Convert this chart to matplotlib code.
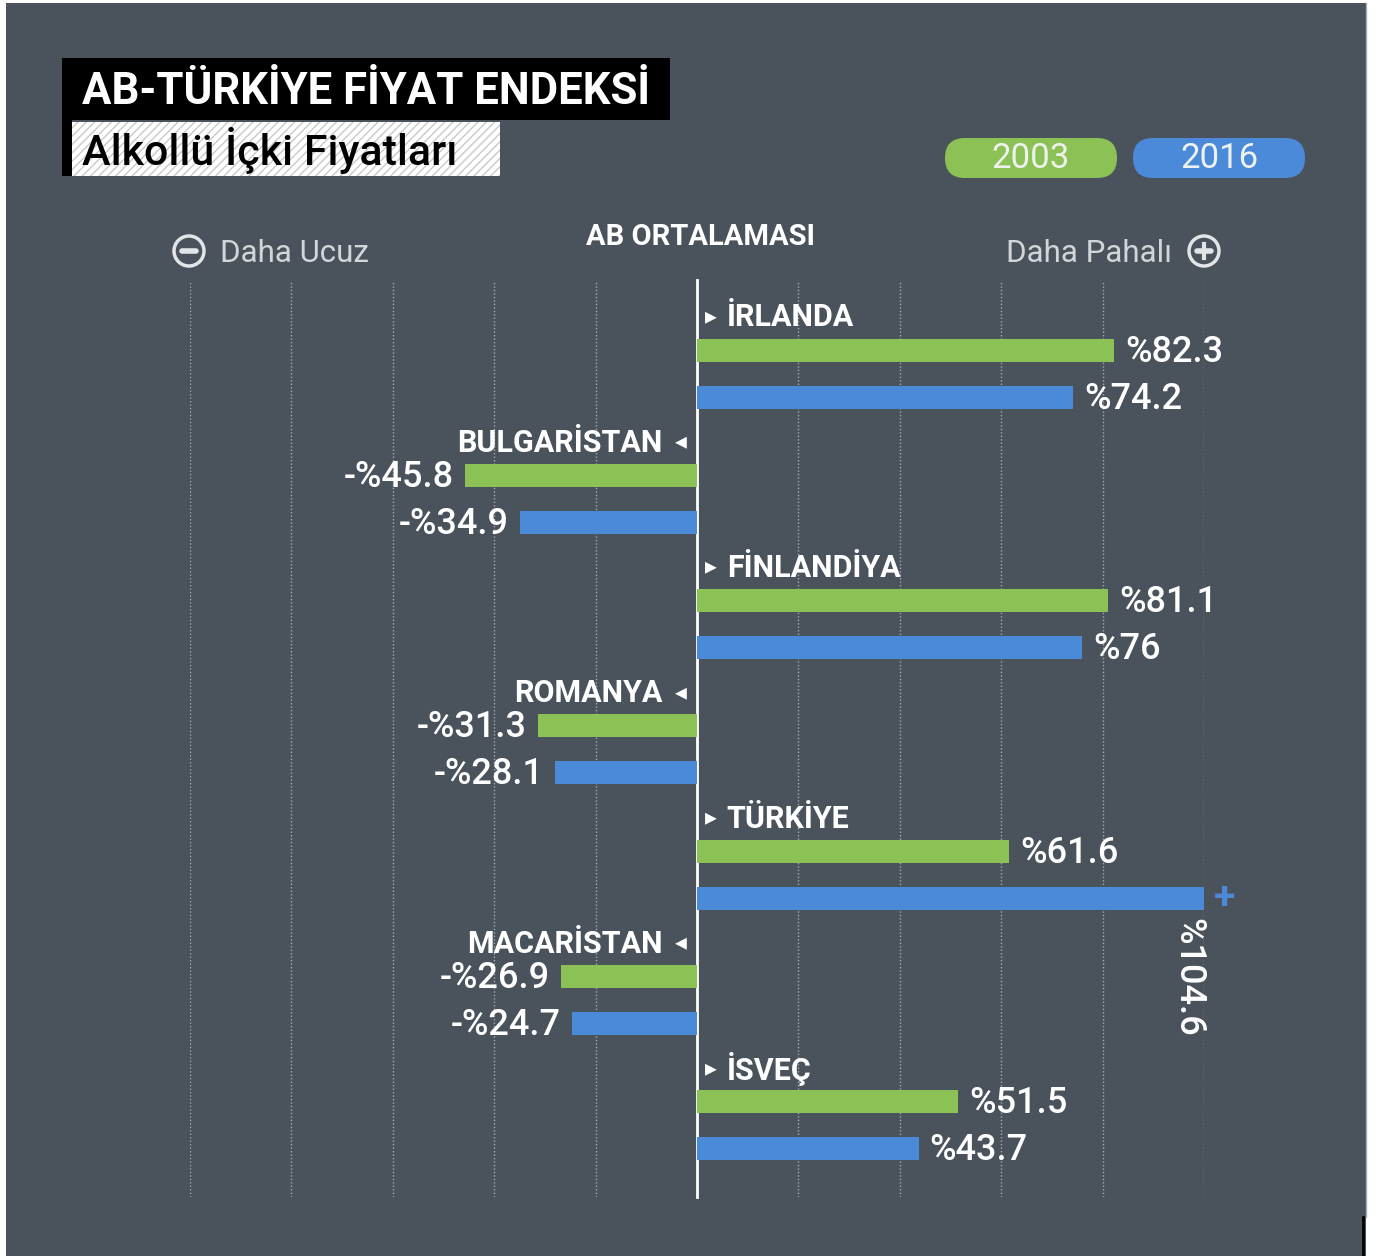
from matplotlib import pyplot as plt
from matplotlib.patches import Rectangle, FancyBboxPatch, Circle
import numpy as np

# veri
countries = ['İRLANDA', 'BULGARİSTAN', 'FİNLANDİYA', 'ROMANYA',
             'TÜRKİYE', 'MACARİSTAN', 'İSVEÇ']
v2003 = [82.3, -45.8, 81.1, -31.3, 61.6, -26.9, 51.5]
v2016 = [74.2, -34.9, 76.0, -28.1, 104.6, -24.7, 43.7]
years = ['2003', '2016']
grid_ticks = [-100, -80, -60, -40, -20, 20, 40, 60, 80, 100]

W, H = 1375, 1256
BG = '#4a535c'
GREEN = '#8bc155'
BLUE = '#4a8ad9'
FONT = 'Roboto'
XMAX = 100


def fy(y):
    # ust-kenar pikselini alt-kenar koordinatina cevir
    return H - y


def pct(v):
    s = '%' + ('%g' % abs(v))
    return '-' + s if v < 0 else s


fig = plt.figure(figsize=(W / 100, H / 100), dpi=100, facecolor='white')

# dekor katmani (piksel koordinatlari)
bg = fig.add_axes([0, 0, 1, 1], zorder=0)
bg.set_xlim(0, W)
bg.set_ylim(0, H)
bg.axis('off')
bg.add_patch(Rectangle((6, 0), 1360, fy(3), color=BG, lw=0))
bg.plot([1366, 1366], [fy(3), fy(1217)], color='#aab0b5', lw=1)
bg.plot([1363.5, 1363.5], [fy(1217), 0], color='black', lw=2)

# baslik kutulari
bg.add_patch(Rectangle((62, fy(176)), 10, 118, color='black', lw=0))
bg.add_patch(Rectangle((62, fy(120)), 608, 62, color='black', lw=0))
bg.add_patch(Rectangle((72, fy(176)), 428, 54, facecolor='white',
                       edgecolor='#c9c9c9', hatch='////', lw=0))
bg.text(82, fy(92), 'AB-TÜRKİYE FİYAT ENDEKSİ', color='white',
        fontsize=31.5, fontweight='bold', family=FONT, va='center', ha='left')
bg.text(82, fy(151), 'Alkollü İçki Fiyatları', color='black',
        fontsize=31, fontweight='medium', family=FONT, va='center', ha='left')

# lejant
for x0, lab, col in zip([945, 1133], years, [GREEN, BLUE]):
    bg.add_patch(FancyBboxPatch((x0, fy(178)), 172, 40,
                                boxstyle='round,pad=0,rounding_size=20',
                                facecolor=col, lw=0))
    bg.text(x0 + 86, fy(158), lab, color='#eef2ee', fontsize=25,
            family=FONT, ha='center', va='center')

# ust etiketler
bg.text(701, fy(237), 'AB ORTALAMASI', color='white', fontsize=21,
        fontweight='bold', family=FONT, ha='center', va='center')
bg.text(220, fy(253), 'Daha Ucuz', color='#d2d6d9', fontsize=22.5,
        family=FONT, ha='left', va='center')
bg.text(1172, fy(253), 'Daha Pahalı', color='#d2d6d9', fontsize=22.5,
        family=FONT, ha='right', va='center')
for cx, plus in [(189, False), (1204, True)]:
    cy = fy(251)
    bg.add_patch(Circle((cx, cy), 15, facecolor='none',
                        edgecolor='#e2e5e7', lw=2.5))
    bg.plot([cx - 7, cx + 7], [cy, cy], color='#e2e5e7', lw=4,
            solid_capstyle='round')
    if plus:
        bg.plot([cx, cx], [cy - 7, cy + 7], color='#e2e5e7', lw=3)

# ana grafik
ax = fig.add_axes([190 / W, 1 - 1197 / H, (1204 - 190) / W, (1197 - 282) / H],
                  zorder=1)
ax.set_facecolor('none')
STEP = 125.3
ax.set_xlim(-100, 100)
ax.set_ylim((1197 - 350) / STEP, (282 - 350) / STEP)
for s in ax.spines.values():
    s.set_visible(False)
ax.set_xticks(grid_ticks)
ax.set_yticks([])
ax.tick_params(length=0, labelbottom=False)
ax.grid(axis='x', color='#a3a9ae', ls=(0, (1, 1.5)), lw=1)
ax.axvline(0, color='white', lw=2, ymax=1.002, clip_on=False)

y = np.arange(len(countries))
bar_h = 23 / STEP
off2 = 47 / STEP
d03 = np.minimum(v2003, XMAX)
d16 = np.minimum(v2016, XMAX)
ax.barh(y, d03, height=bar_h, color=GREEN, zorder=3)
ax.barh(y + off2, d16, height=bar_h, color=BLUE, zorder=3)

val_kw = dict(color='white', fontsize=26, family=FONT, fontweight='medium',
              textcoords='offset points', annotation_clip=False)
for yy, v, d in list(zip(y, v2003, d03)) + list(zip(y + off2, v2016, d16)):
    if v > XMAX:
        ax.annotate('+', (d, yy), xytext=(14.5, 0), color=BLUE, fontsize=28,
                    fontweight='bold', family=FONT, ha='center', va='center',
                    textcoords='offset points', annotation_clip=False)
        ax.annotate(pct(v), (d, yy + bar_h / 2), xytext=(-11.5, -6),
                    rotation=-90, ha='center', va='top', **val_kw)
    elif v >= 0:
        ax.annotate(pct(v), (d, yy), xytext=(8, -1.5), ha='left', va='center',
                    **val_kw)
    else:
        ax.annotate(pct(v), (d, yy), xytext=(-8, -1.5), ha='right', va='center',
                    **val_kw)

lab_kw = dict(color='white', fontsize=22, family=FONT, fontweight='bold',
              va='center', textcoords='offset points', annotation_clip=False)
for i, (name, v) in enumerate(zip(countries, v2003)):
    yl = i - 34 / STEP
    if v >= 0:
        ax.annotate('▸', (0, yl), xytext=(10, 0), ha='center', color='white',
                    fontsize=17, va='center', family='DejaVu Sans',
                    textcoords='offset points', annotation_clip=False)
        ax.annotate(name, (0, yl), xytext=(21.5, -1), ha='left', **lab_kw)
    else:
        ax.annotate('◂', (0, yl), xytext=(-11.5, 0), ha='center', color='white',
                    fontsize=17, va='center', family='DejaVu Sans',
                    textcoords='offset points', annotation_clip=False)
        ax.annotate(name, (0, yl), xytext=(-25, -1), ha='right', **lab_kw)

fig.savefig('out.png', dpi=100, facecolor='white')
